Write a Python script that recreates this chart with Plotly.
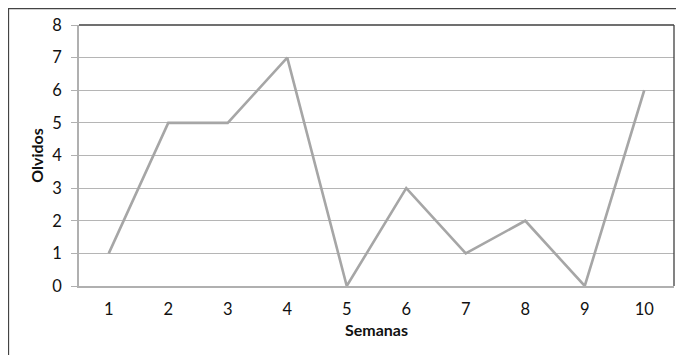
import plotly.graph_objects as go

semanas = ["1", "2", "3", "4", "5", "6", "7", "8", "9", "10"]
olvidos = [1, 5, 5, 7, 0, 3, 1, 2, 0, 6]
y_ticks = [0, 1, 2, 3, 4, 5, 6, 7, 8]

fig = go.Figure()
fig.add_trace(go.Scatter(
    x=list(range(1, 11)), y=olvidos, mode="lines",
    line=dict(color="#a6a6a6", width=2.6),
    showlegend=False,
))

font_family = "Lato, Open Sans, sans-serif"
fig.update_layout(
    width=676, height=347,
    margin=dict(l=71, r=10, t=17, b=69),
    paper_bgcolor="white", plot_bgcolor="white",
    font=dict(family=font_family, size=16, color="#111"),
    xaxis=dict(
        range=[0.5, 10.5], tickvals=list(range(1, 11)), ticktext=semanas,
        showgrid=False, zeroline=False, showline=True, linecolor="#b0b0b0", linewidth=1.5,
        ticks="", ticklabelstandoff=7, automargin=False,
        title=dict(text="<b>Semanas</b>", font=dict(size=16, color="#111"), standoff=7),
        tickfont=dict(size=16.5, color="#111"),
    ),
    yaxis=dict(
        range=[0, 8], tickvals=y_ticks,
        showgrid=True, gridcolor="#b5b5b5", gridwidth=1.2,
        zeroline=False, showline=True, linecolor="#b0b0b0", linewidth=1.5,
        ticks="outside", ticklen=6, tickcolor="#b0b0b0", tickwidth=1.2,
        ticklabelstandoff=6, automargin=False,
        title=dict(text="<b>Olvidos</b>", font=dict(size=16, color="#111"), standoff=5),
        tickfont=dict(size=16.5, color="#111"),
    ),
    shapes=[
        dict(type="line", xref="x domain", yref="y domain", x0=0, x1=1, y0=1, y1=1,
             line=dict(color="#404040", width=1.3)),
        dict(type="line", xref="x domain", yref="y domain", x0=1, x1=1, y0=0, y1=1,
             line=dict(color="#404040", width=1.3)),
        dict(type="rect", xref="paper", yref="paper", x0=-0.1185, x1=1.1, y0=-0.4, y1=1.063,
             line=dict(color="#444", width=1.3), fillcolor="rgba(0,0,0,0)", layer="below"),
    ],
)

fig.write_html("out.html")
